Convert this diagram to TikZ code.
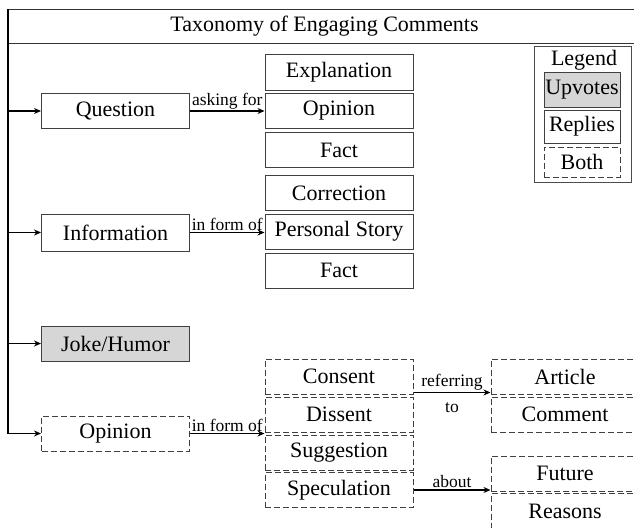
\documentclass[tikz,border=0pt]{standalone}
\usepackage{fontspec}
\setmainfont{Liberation Serif}
\usetikzlibrary{arrows.meta}

\tikzset{
  cat/.style={draw=black!75, line width=1pt, minimum width=148pt, minimum height=35pt, inner sep=0pt, font=\fontsize{22}{24}\selectfont},
  upv/.style={cat, fill=black!16},
  rep/.style={cat},
  both/.style={cat, dash pattern=on 6pt off 3pt},
  arr/.style={line width=1.8pt, -{Stealth[length=7pt,width=6pt]}},
  lbl/.style={font=\fontsize{17.5}{19}\selectfont, inner sep=1pt}
}

\begin{document}
\begin{tikzpicture}[x=1pt,y=-1pt]
			%%%%% FRAME %%%%%
			\useasboundingbox (0,0) rectangle (634,527);
			\clip (0,0) rectangle (634,527);
			
			\node[draw=black!80, line width=1pt, minimum width=632pt, minimum height=34pt, inner sep=0pt, anchor=north west, font=\fontsize{22}{24}\selectfont] (ttl) at (8,9) {Taxonomy of Engaging Comments};
			
			%%%%% LEGEND %%%%%
			\node[draw=black!70, line width=1pt, minimum width=97pt, minimum height=135pt] (leg) at (582.5,114.5) {};
			\node[font=\fontsize{22}{24}\selectfont, inner sep=0pt] (legt) at (584,60) {Legend};
			\node[upv, minimum width=76pt] (lupv) at (582,89.5) {Upvotes};
			\node[rep, minimum width=76pt, minimum height=33pt] (lrep) at (582,126.5) {Replies};
			\node[both, minimum width=76pt, minimum height=30pt] (lboth) at (582,162) {Both};
			
			%%%%% FIRST LEVEL %%%%%
			\node[rep] (qst) at (115.5,111) {Question};
			\node[rep, minimum height=37pt] (inf) at (115.5,232.5) {Information};
			\node[upv] (jok) at (115.5,343.5) {Joke/Humor};
			\node[both] (opn) at (115.5,433.5) {Opinion};
			
			\draw[arr] (ttl.north west) |- (opn.west);
			\draw[arr] (ttl.north west |- qst.west) -- (qst.west);
			\draw[arr] (ttl.north west |- inf.west) -- (inf.west);
			\draw[arr] (ttl.north west |- jok.west) -- (jok.west);
			
			%%%%% QUESTION %%%%%
			\node[rep] (expl) at (339,72.5) {Explanation};
			\node[rep] (opq) at (339,111) {Opinion};
			\node[rep] (fct) at (339,150) {Fact};
			\draw[arr] (qst.east) -- (qst.east -| opq.west) node[lbl, midway, above] {asking for};
			
			%%%%% INFORMATION %%%%%
			\node[rep] (corr) at (339,193) {Correction};
			\node[rep] (pst) at (339,231.5) {Personal Story};
			\node[rep] (fct2) at (339,270.5) {Fact};
			\draw[arr] (inf.east) -- (inf.east -| pst.west) node[lbl, midway, above] {in form of};
			
			%%%%% OPINION %%%%%
			\node[both] (cons) at (339,376.5) {Consent};
			\node[both] (diss) at (339,414.5) {Dissent};
			\node[both] (sugg) at (339,452.5) {Suggestion};
			\node[both] (spec) at (339,490) {Speculation};
			\draw[arr] (opn.east) -- (opn.east -| diss.west) node[lbl, midway, above] {in form of};
			
			\node[both] (art) at (565,376.5) {Article};
			\node[both] (cmt) at (565,414.5) {Comment};
			\node[both] (fut) at (565,473.5) {Future};
			\node[both] (rsn) at (565,511) {Reasons};
			
			\draw[arr] ([yshift=2pt]cons.south east) -- ([yshift=2pt]art.south west)
				node[lbl, midway, above] {referring}
				node[lbl, midway, below, yshift=-8pt] {to};
			\draw[arr] (spec.east) -- (spec.east -| fut.west) node[lbl, midway, above] {about};
			
			%%%%% END %%%%%
\end{tikzpicture}
\end{document}
